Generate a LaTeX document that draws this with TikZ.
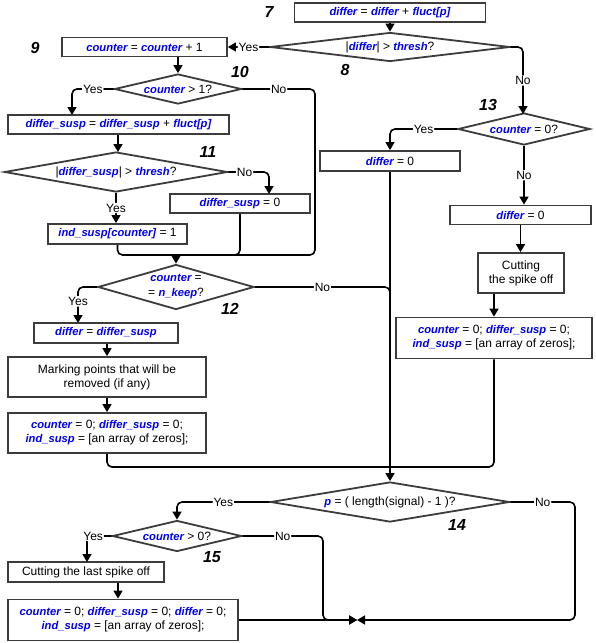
\documentclass[tikz,border=0pt]{standalone}
\usepackage{fontspec}
\setmainfont{Liberation Sans}
\usetikzlibrary{shapes.geometric,arrows.meta}
\definecolor{vblue}{RGB}{0,0,235}
\definecolor{bord}{RGB}{60,60,60}
\newcommand{\vv}[1]{\textcolor{vblue}{\fontsize{11.2}{14}\selectfont\bfseries\itshape #1}}
\begin{document}
\begin{tikzpicture}[x=1pt,y=-1pt,
  pbox/.style={draw=bord,line width=1.8pt,fill=white,align=center,inner sep=1pt,font=\fontsize{12}{14}\selectfont},
  pdia/.style={diamond,draw=bord,line width=1.8pt,fill=white,align=center,inner sep=0pt,font=\fontsize{12}{15}\selectfont},
  dtext/.style={align=center,inner sep=0pt,font=\fontsize{12}{15}\selectfont},
  ylab/.style={fill=white,inner sep=1pt,font=\fontsize{12}{14}\selectfont},
  numlab/.style={font=\fontsize{16}{18}\selectfont\bfseries\itshape},
  flow/.style={line width=1.6pt,rounded corners=5pt},
  arr/.style={flow,-{Triangle[length=8pt,width=9pt]}}]
\path[use as bounding box,fill=white] (0,0) rectangle (595,643);

% numbers
\node[numlab] (n7) at (269,12) {7};
\node[numlab] (n8) at (345,70) {8};
\node[numlab] (n9) at (35,48) {9};
\node[numlab] (n10) at (240,72) {10};
\node[numlab] (n11) at (208,152) {11};
\node[numlab] (n12) at (230,309) {12};
\node[numlab] (n13) at (488,105) {13};
\node[numlab] (n14) at (457,525) {14};
\node[numlab] (n15) at (212,557) {15};

% boxes
\node[pbox,minimum width=191pt,minimum height=19pt] (b7) at (390,12.5) {\vv{differ} = \vv{differ} + \vv{fluct[p]}};
\node[pbox,minimum width=165pt,minimum height=19pt] (b9) at (144.5,47) {\vv{counter} = \vv{counter} + 1};
\node[pbox,minimum width=221pt,minimum height=19pt] (bds) at (118.5,124.5) {\vv{differ\_susp} = \vv{differ\_susp} + \vv{fluct[p]}};
\node[pbox,minimum width=140pt,minimum height=19pt] (bds0) at (240,203.5) {\vv{differ\_susp} = 0};
\node[pbox,minimum width=139pt,minimum height=20pt] (bind) at (117.5,234) {\vv{ind\_susp[counter]} = 1};
\node[pbox,minimum width=140pt,minimum height=20pt] (bdl) at (390,161) {\vv{differ} = 0};
\node[pbox,minimum width=141pt,minimum height=19pt] (bdr) at (520.5,215) {\vv{differ} = 0};
\node[pbox,minimum width=86pt,minimum height=40pt] (bcut) at (521,273) {Cutting\\the spike off};
\node[pbox,minimum width=196pt,minimum height=41pt] (bzr) at (494,338) {\vv{counter} = 0; \vv{differ\_susp} = 0;\\\vv{ind\_susp} = [an array of zeros];};
\node[pbox,minimum width=144pt,minimum height=20pt] (bdd) at (106,333) {\vv{differ} = \vv{differ\_susp}};
\node[pbox,minimum width=198pt,minimum height=40pt] (bmark) at (107,377) {Marking points that will be\\removed (if any)};
\node[pbox,minimum width=198pt,minimum height=40pt] (bzl) at (107,433) {\vv{counter} = 0; \vv{differ\_susp} = 0;\\\vv{ind\_susp} = [an array of zeros];};
\node[pbox,minimum width=156pt,minimum height=20pt] (bcl) at (86,572) {Cutting the last spike off};
\node[pbox,minimum width=230pt,minimum height=41pt] (bfin) at (123,620) {\vv{counter} = 0; \vv{differ\_susp} = 0; \vv{differ} = 0;\\\vv{ind\_susp} = [an array of zeros];};

% diamonds
\node[pdia,aspect=8,minimum width=240pt,minimum height=29pt] (d8) at (390,47) {|\vv{differ}| > \vv{thresh}?};
\node[pdia,aspect=4.3,minimum width=127pt,minimum height=30pt] (d10) at (178,89) {\vv{counter} > 1?};
\node[pdia,aspect=6,minimum width=223pt,minimum height=40pt] (d11) at (116,172) {|\vv{differ\_susp}| > \vv{thresh}?};
\node[pdia,minimum width=156pt,minimum height=45pt] (d12) at (176,287) {};
\node[dtext] (t12) at (d12.center) {\vv{counter} =\\= \vv{n\_keep}?};
\node[pdia,aspect=4.5,minimum width=132pt,minimum height=32pt] (d13) at (524,129) {\vv{counter} = 0?};
\node[pdia,aspect=6,minimum width=239pt,minimum height=40pt] (d14) at (390,502) {\vv{p} = ( length(signal) - 1 )?};
\node[pdia,aspect=4.3,minimum width=129pt,minimum height=31pt] (d15) at (177,536) {\vv{counter} > 0?};

% merge / end points
\coordinate (m12) at (176,255);
\coordinate (m14) at (390,467);
\coordinate (fin) at (357,620);

% connectors
\draw[arr] (b7.south) -- (d8.north);
\draw[arr] (d8.west) -- node[ylab]{Yes} (d8.west -| b9.east);
\draw[arr] (d8.east) -- (523,47) -- node[ylab]{No} (523,114);
\draw[arr] (b9.south -| d10.north) -- (d10.north);
\draw[arr] (d10.west) -- node[ylab,pos=0.5]{Yes} (72,89) -- (72,115);
\draw[flow] (d10.east) -- node[ylab]{No} (315,89) |- (m12);
\draw[arr] (bds.south -| 118,0) -- (118,152);
\draw[arr] (d11.east) -- node[ylab,pos=0.4]{No} (269,172) -- (269,194);
\draw[arr] (d11.south) -- node[ylab]{Yes} (d11.south |- bind.north);
\draw[flow] (bind.south) |- (m12);
\draw[flow] (bds0.south) |- (m12);
\draw[arr] (m12) -- (d12.north);
\draw[arr] (d12.west) -- (78,287) -- node[ylab,pos=0.4]{Yes} (78,323);
\draw[flow] (d12.east) -- node[ylab]{No} (390,287) -- (390,300);
\draw[arr] (bdd.south -| bmark.north) -- (bmark.north);
\draw[arr] (bmark.south) -- (bzl.north);
\draw[flow] (bzl.south) |- (m14);
\draw[arr] (d13.west) -- node[ylab]{Yes} (390,129) -- (bdl.north);
\draw[arr] (bdl.south) -- (d14.north);
\draw[arr] (d13.south) -- node[ylab]{No} (d13.south |- bdr.north);
\draw[arr] (bdr.south) -- (bdr.south |- bcut.north);
\draw[arr] (bcut.south -| bzr.north) -- (bzr.north);
\draw[flow] (bzr.south) |- (m14);
\draw[arr] (d14.west) -- node[ylab]{Yes} (177,502) -- (d15.north);
\draw[arr] (d14.east) -- node[ylab]{No} (575,502) -- (575,620) -- (fin);
\draw[arr] (d15.west) -- node[ylab,pos=0.75]{Yes} (87,536) -- (87,562);
\draw[arr] (d15.east) -- node[ylab]{No} (323,536) -- (323,620) -- (fin);
\draw[arr] ([xshift=32pt]bcl.south) -- ([xshift=32pt]bcl.south |- bfin.north);
\draw[arr] (bfin.east) -- (fin);
\end{tikzpicture}
\end{document}
